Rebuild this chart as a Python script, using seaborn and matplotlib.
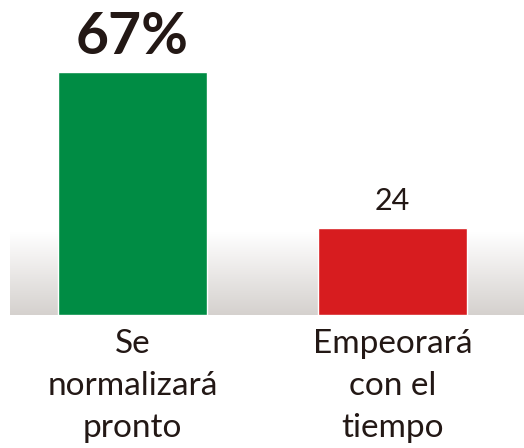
import numpy as np
import seaborn as sns
from matplotlib import pyplot as plt

categories = ['Se\nnormalizará\npronto', 'Empeorará\ncon el\ntiempo']
values = [67, 24]
value_labels = ['67%', '24']
colors = ['#008c44', '#d71c1f']

sns.set_theme(style='white')
plt.rcParams['font.family'] = ['Lato', 'DejaVu Sans']
text_color = '#231815'

fig = plt.figure(figsize=(5.24, 4.48), dpi=100)
ax = fig.add_axes([0, (448 - 315) / 448, 1, (315 - 72) / 448])

sns.barplot(x=categories, y=values, hue=categories, palette=colors,
            width=0.573, legend=False, saturation=1, ax=ax, zorder=3)

ax.set_xlim(-132.5 / 260, 1 + (524 - 392.5) / 260)
ax.set_ylim(0, 67)

# gray gradient band behind the bars
grad = np.linspace(0, 1, 256).reshape(-1, 1)
cmap = sns.blend_palette(['#d5d1ce', '#ffffff'], as_cmap=True)
ax.imshow(grad, cmap=cmap, aspect='auto', origin='lower',
          extent=(-122.5 / 260, ax.get_xlim()[1], 0, 83 / (243 / 67)),
          zorder=1)

# value labels
for i, (p, lab) in enumerate(zip(ax.patches, value_labels)):
    x = p.get_x() + p.get_width() / 2
    if i == 0:
        ax.text(x, p.get_height() + 2.3, lab, ha='center', va='bottom',
                fontsize=41, fontweight='bold', color=text_color)
    else:
        ax.text(x, p.get_height() + 3.5, lab, ha='center', va='bottom',
                fontsize=22, color=text_color)

ax.set_xticks(range(len(categories)))
ax.set_xticklabels(categories, fontsize=24, color=text_color, linespacing=1.5)
ax.tick_params(axis='x', length=0, pad=10)
ax.set_yticks([])
ax.set_xlabel('')
ax.set_ylabel('')
sns.despine(ax=ax, left=True, bottom=True, right=True, top=True)
ax.patch.set_alpha(0)

fig.savefig('out.png', dpi=100)
